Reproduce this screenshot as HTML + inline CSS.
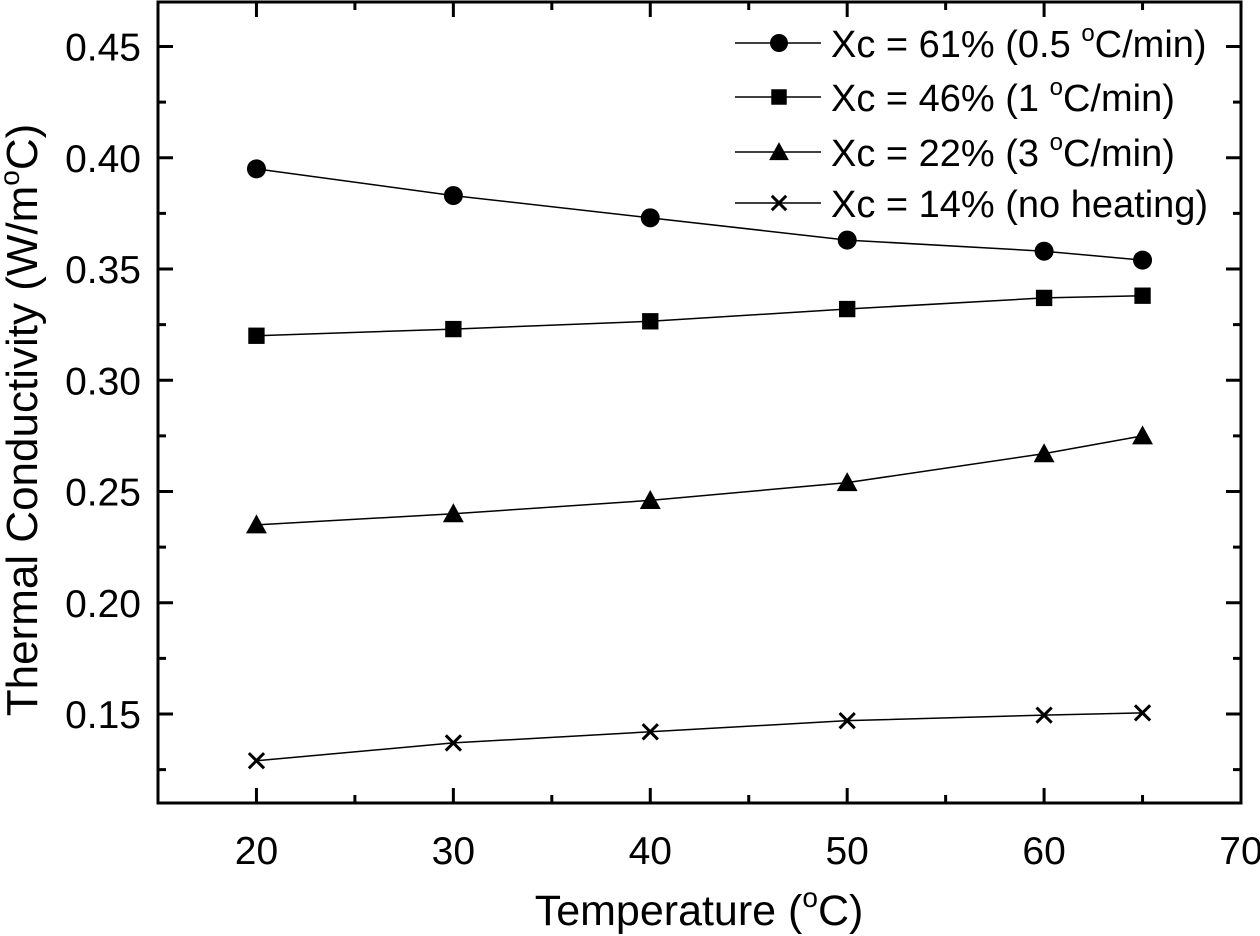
<!DOCTYPE html>
<html><head><meta charset="utf-8"><style>
html,body{margin:0;padding:0;background:#fff}
svg{display:block;font-family:"Liberation Sans",Arial,sans-serif}
</style></head><body>
<svg id="chart" width="1260" height="936" viewBox="0 0 1260 936">
<g id="axes"></g>
<g id="series"></g>
<g id="legend"></g>
<text x="699" y="925" font-size="43" text-anchor="middle">Temperature (<tspan font-size="28" dy="-18">o</tspan><tspan dy="18">C)</tspan></text>
<text transform="translate(37,420) rotate(-90)" font-size="44" text-anchor="middle">Thermal Conductivity (W/m<tspan font-size="28" dy="-18">o</tspan><tspan dy="18">C)</tspan></text>
</svg>
<script>
const temps = [20, 30, 40, 50, 60, 65];
const xc61 = [0.395, 0.383, 0.373, 0.363, 0.358, 0.354];
const xc46 = [0.320, 0.323, 0.3265, 0.332, 0.337, 0.338];
const xc22 = [0.235, 0.240, 0.246, 0.254, 0.267, 0.275];
const xc14 = [0.129, 0.137, 0.142, 0.147, 0.1495, 0.1505];
const xTicks = [20, 30, 40, 50, 60, 70];
const yTicks = [0.15, 0.20, 0.25, 0.30, 0.35, 0.40, 0.45];
const legendLabels = ["Xc = 61% (0.5 ", "Xc = 46% (1 ", "Xc = 22% (3 ", "Xc = 14% (no heating)"];

const NS = "http://www.w3.org/2000/svg";
const L = 158, R = 1241, T = 2, B = 803;
const xMin = 15, xMax = 70, yMin = 0.11, yMax = 0.47;
const sx = v => L + (v - xMin) / (xMax - xMin) * (R - L);
const sy = v => B - (v - yMin) / (yMax - yMin) * (B - T);
function mk(tag, attrs, parent) { const e = document.createElementNS(NS, tag); for (const k in attrs) e.setAttribute(k, attrs[k]); parent.appendChild(e); return e; }

const axes = document.getElementById('axes');
const frame = mk('rect', {x: L, y: T, width: R - L, height: B - T, fill: 'none', stroke: '#000', 'stroke-width': 3}, axes);


xTicks.forEach((v, i) => {
  const x = sx(v);
  mk('line', {x1: x, x2: x, y1: B, y2: B - 15, stroke: '#000', 'stroke-width': 3}, axes);
  mk('line', {x1: x, x2: x, y1: T, y2: T + 15, stroke: '#000', 'stroke-width': 3}, axes);
  const t = mk('text', {x: x, y: B + 61, 'font-size': 39, 'text-anchor': 'middle'}, axes);
  t.textContent = v;
  
  
});
for (let v = 15; v < 70; v += 10) {
  const x = sx(v);
  mk('line', {x1: x, x2: x, y1: B, y2: B - 8, stroke: '#000', 'stroke-width': 3}, axes);
  mk('line', {x1: x, x2: x, y1: T, y2: T + 8, stroke: '#000', 'stroke-width': 3}, axes);
}
yTicks.forEach(v => {
  const y = sy(v);
  mk('line', {x1: L, x2: L + 15, y1: y, y2: y, stroke: '#000', 'stroke-width': 3}, axes);
  mk('line', {x1: R, x2: R - 15, y1: y, y2: y, stroke: '#000', 'stroke-width': 3}, axes);
  const t = mk('text', {x: L - 17, y: y + 14, 'font-size': 39, 'text-anchor': 'end'}, axes);
  t.textContent = v.toFixed(2);
  
  
});
for (let v = 0.125; v < 0.47; v += 0.05) {
  const y = sy(v);
  mk('line', {x1: L, x2: L + 8, y1: y, y2: y, stroke: '#000', 'stroke-width': 3}, axes);
  mk('line', {x1: R, x2: R - 8, y1: y, y2: y, stroke: '#000', 'stroke-width': 3}, axes);
}

function marker(type, x, y, s, parent) {
  let e;
  if (type === 'circle') e = mk('circle', {cx: x, cy: y, r: s * 0.5, fill: '#000'}, parent);
  else if (type === 'square') e = mk('rect', {x: x - s * 0.43, y: y - s * 0.43, width: s * 0.86, height: s * 0.86, fill: '#000'}, parent);
  else if (type === 'triangle') e = mk('polygon', {points: `${x},${y - s * 0.55} ${x - s * 0.55},${y + s * 0.45} ${x + s * 0.55},${y + s * 0.45}`, fill: '#000'}, parent);
  else e = mk('path', {d: `M${x - s * 0.4},${y - s * 0.4}L${x + s * 0.4},${y + s * 0.4}M${x + s * 0.4},${y - s * 0.4}L${x - s * 0.4},${y + s * 0.4}`, stroke: '#000', 'stroke-width': 3, fill: 'none'}, parent);
  return e;
}

const seriesList = [[xc61, 'circle'], [xc46, 'square'], [xc22, 'triangle'], [xc14, 'cross']];
const sg = document.getElementById('series');
seriesList.forEach(([vals, type], si) => {
  const pts = temps.map((t, i) => sx(t) + ',' + sy(vals[i])).join(' ');
  const pl = mk('polyline', {points: pts, fill: 'none', stroke: '#000', 'stroke-width': 1.5}, sg);
  
  
  temps.forEach((t, i) => {
    const m = marker(type, sx(t), sy(vals[i]), 19, sg);
    
    
  });
});

const lg = document.getElementById('legend');
const rows = [43, 97, 152, 203];
seriesList.forEach(([vals, type], i) => {
  const y = rows[i];
  mk('line', {x1: 735, x2: 821, y1: y, y2: y, stroke: '#000', 'stroke-width': 1.5}, lg);
  const m = marker(type, 779, y, 18, lg);
  
  
  const t = mk('text', {x: 831, y: y + 14, 'font-size': 38}, lg);
  
  
  if (i < 3) {
    t.textContent = legendLabels[i];
    const s1 = mk('tspan', {'font-size': 24, dy: -16}, t); s1.textContent = 'o';
    const s2 = mk('tspan', {dy: 16}, t); s2.textContent = 'C/min)';
  } else t.textContent = legendLabels[i];
});
</script>
</body></html>
